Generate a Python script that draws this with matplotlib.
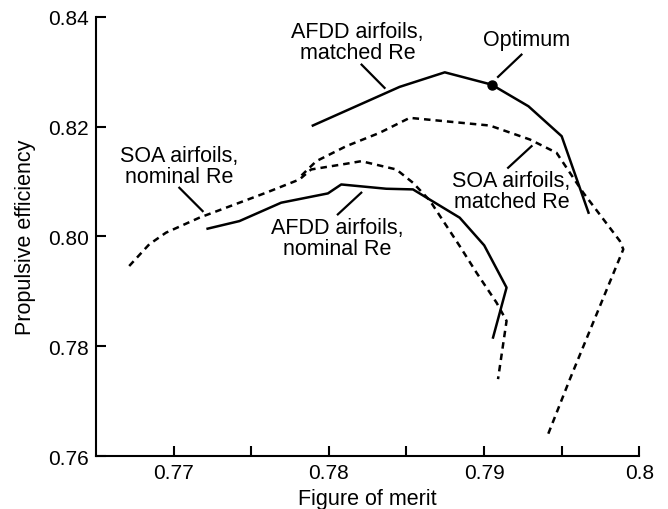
import matplotlib
matplotlib.use("Agg")
import matplotlib.pyplot as plt
from matplotlib.ticker import MultipleLocator, FixedLocator

plt.rcParams['font.family'] = ['Liberation Sans', 'DejaVu Sans']

# figure of merit / propulsive efficiency
afdd_matched_fm = [0.77897, 0.78456, 0.78747, 0.79048, 0.79286, 0.79500, 0.79673]
afdd_matched_eta = [0.82018, 0.82722, 0.82987, 0.82764, 0.82369, 0.81824, 0.80431]

afdd_nominal_fm = [0.77219, 0.77424, 0.77693, 0.77994, 0.78080, 0.78370, 0.78542,
                   0.78843, 0.79001, 0.79145, 0.79058]
afdd_nominal_eta = [0.80140, 0.80278, 0.80613, 0.80782, 0.80945, 0.80867, 0.80855,
                    0.80340, 0.79836, 0.79067, 0.78158]

soa_nominal_fm = [0.76714, 0.76843, 0.76951, 0.77166, 0.77424, 0.77596, 0.77811,
                  0.77886, 0.78112, 0.78209, 0.78435, 0.78542, 0.78650, 0.78843,
                  0.78951, 0.79080, 0.79145, 0.79090]
soa_nominal_eta = [0.79460, 0.79855, 0.80067, 0.80340, 0.80613, 0.80795, 0.81036,
                   0.81218, 0.81322, 0.81369, 0.81218, 0.80976, 0.80655, 0.79824,
                   0.79340, 0.78795, 0.78460, 0.77400]

soa_matched_fm = [0.77824, 0.77919, 0.78112, 0.78327, 0.78521, 0.79037, 0.79295,
                  0.79467, 0.79639, 0.79875, 0.79897, 0.79703, 0.79553, 0.79413]
soa_matched_eta = [0.81109, 0.81369, 0.81642, 0.81885, 0.82158, 0.82018, 0.81764,
                   0.81522, 0.80795, 0.79915, 0.79764, 0.78431, 0.77400, 0.76400]

optimum_fm = 0.79048
optimum_eta = 0.82764

fig = plt.figure(figsize=(6.68, 5.10), dpi=100)
ax = fig.add_axes([0.1437, 0.1039, 0.8133, 0.8614])

lw = 1.8
dash = (2.6, 2.0)
ax.plot(afdd_matched_fm, afdd_matched_eta, color='black', lw=lw)
ax.plot(afdd_nominal_fm, afdd_nominal_eta, color='black', lw=lw)
ax.plot(soa_nominal_fm, soa_nominal_eta, color='black', lw=lw, linestyle=(0, dash))
ax.plot(soa_matched_fm, soa_matched_eta, color='black', lw=lw, linestyle=(0, dash))
ax.plot([optimum_fm], [optimum_eta], 'o', color='black', markersize=6.5)

fs = 15.5
# labels with leader lines: text position, leader start, leader end
notes = [
    ("AFDD airfoils,\nmatched Re", (0.78185, 0.83545), (0.78211, 0.83127), (0.78359, 0.82704)),
    ("Optimum", (0.79274, 0.83582), (0.79241, 0.83309), (0.79090, 0.82904)),
    ("SOA airfoils,\nmatched Re", (0.79177, 0.80824), (0.79306, 0.81642), (0.79155, 0.81249)),
    ("SOA airfoils,\nnominal Re", (0.77035, 0.81278), (0.77037, 0.80885), (0.77187, 0.80460)),
    ("AFDD airfoils,\nnominal Re", (0.78053, 0.79976), (0.78058, 0.80400), (0.78209, 0.80795)),
]
for txt, pos, p0, p1 in notes:
    ax.text(pos[0], pos[1], txt, ha='center', va='center', fontsize=fs,
            linespacing=1.0)
    ax.plot([p0[0], p1[0]], [p0[1], p1[1]], color='black', lw=1.6)

ax.set_xlim(0.765, 0.8)
ax.set_ylim(0.76, 0.84)
ax.xaxis.set_major_locator(FixedLocator([0.77, 0.78, 0.79, 0.8]))
ax.set_xticklabels(['0.77', '0.78', '0.79', '0.8'])
ax.xaxis.set_minor_locator(FixedLocator([0.775, 0.785, 0.795]))
ax.yaxis.set_major_locator(MultipleLocator(0.02))
ax.yaxis.set_major_formatter(matplotlib.ticker.FormatStrFormatter('%.2f'))

for s in ['top', 'right']:
    ax.spines[s].set_visible(False)
for s in ['left', 'bottom']:
    ax.spines[s].set_linewidth(1.5)
ax.tick_params(which='both', direction='in', length=7, width=1.5, labelsize=15, pad=5)

ax.set_xlabel('Figure of merit', fontsize=fs, labelpad=4)
ax.set_ylabel('Propulsive efficiency', fontsize=fs, labelpad=9)

fig.savefig('out.png', dpi=100)
